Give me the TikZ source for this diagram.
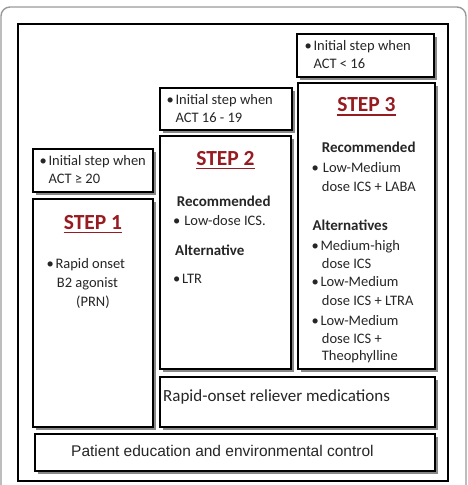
\documentclass[tikz,border=0pt]{standalone}
\usepackage{fontspec}
\setmainfont{Carlito}
\newfontfamily\arialfont{Liberation Sans}
\usetikzlibrary{shadows,fit}
\definecolor{stepred}{RGB}{150,28,34}
\newcommand\itm{\textbullet\hspace{1.6pt}}
\tikzset{
  box/.style={draw=black, line width=1.1pt, fill=white, inner sep=0pt,
    drop shadow={shadow xshift=2.6pt, shadow yshift=-2.6pt, fill=black!55, opacity=0.85}},
  txt/.style={anchor=base west, inner sep=0pt, text=black!85,
    font=\fontsize{14.5}{18}\selectfont},
  head/.style={txt, font=\fontsize{15}{18}\selectfont\bfseries},
  steptitle/.style={anchor=base, inner sep=0pt, text=stepred,
    font=\fontsize{21.5}{24}\selectfont\bfseries},
  uline/.style={draw=stepred, line width=1.3pt},
}
\begin{document}
\begin{tikzpicture}[x=1pt,y=-1pt]
  \useasboundingbox (0,0) rectangle (467,485);
  \clip (0,0) rectangle (467,485);
  % outer card and frame
  \draw[draw=black!40, line width=1.4pt, rounded corners=9pt] (1,7) rectangle (466,500);
  \draw[line width=1.8pt] (18,24) rectangle (448,481);

  % boxes
  \node[box, fit={(297,34) (434,77)}] (s3cond) {};
  \node[box, fit={(298,83) (435,369)}] (s3) {};
  \node[box, fit={(160,88) (292,130)}] (s2cond) {};
  \node[box, fit={(160,136) (291,369)}] (s2) {};
  \node[box, fit={(33,149) (153,192)}] (s1cond) {};
  \node[box, fit={(33,199) (153,427)}] (s1) {};
  \node[box, fit={(160,377) (435,427)}] (rapid) {};
  \node[box, fit={(35,434) (435,471)}] (patient) {};

  % entry conditions
  \node[txt] (s3c1) at (304.5,50.7) {\itm Initial step when};
  \node[txt] (s3c2) at (304.5,68.7) {\hphantom{\itm}ACT < 16};
  \node[txt] (s2c1) at (166.5,104.3) {\itm Initial step when};
  \node[txt] (s2c2) at (166.5,122.3) {\hphantom{\itm}ACT 16 - 19};
  \node[txt] (s1c1) at (39.5,165.7) {\itm Initial step when};
  \node[txt] (s1c2) at (39.5,183.5) {\hphantom{\itm}ACT ≥ 20};

  % step titles
  \node[steptitle] (t3) at (366.5,111.7) {STEP 3};
  \node[steptitle] (t2) at (225.5,165) {STEP 2};
  \node[steptitle] (t1) at (93,229.3) {STEP 1};
  \foreach \t in {t1,t2,t3}
    \draw[uline] ([yshift=-3.4pt]\t.base west) -- ([yshift=-3.4pt]\t.base east);

  % step 3 contents
  \node[head] (s3h1) at (321.7,152.7) {Recommended};
  \node[txt] (s3a1) at (311.5,172.3) {\textbullet\hspace{4pt}Low-Medium};
  \node[txt] (s3a2) at (321.7,191.7) {dose ICS + LABA};
  \node[head] (s3h2) at (312.3,230) {Alternatives};
  \node[txt] (s3b1) at (311.5,250) {\itm Medium-high};
  \node[txt] (s3b2) at (321.7,268.3) {dose ICS};
  \node[txt] (s3b3) at (311.5,286.7) {\itm Low-Medium};
  \node[txt] (s3b4) at (321.7,305.7) {dose ICS + LTRA};
  \node[txt] (s3b5) at (311.5,325) {\itm Low-Medium};
  \node[txt] (s3b6) at (321.7,343.3) {dose ICS +};
  \node[txt] (s3b7) at (321.7,360) {Theophylline};

  % step 2 contents
  \node[head] (s2h1) at (176.7,206.7) {Recommended};
  \node[txt] (s2a1) at (173,225.7) {\textbullet\hspace{4pt}Low-dose ICS.};
  \node[head] (s2h2) at (175,255) {Alternative};
  \node[txt] (s2b1) at (173,283.3) {\itm LTR};

  % step 1 contents
  \node[txt] (s1a1) at (46.5,268.3) {\itm Rapid onset};
  \node[txt] (s1a2) at (56.7,287.3) {B2 agonist};
  \node[txt] (s1a3) at (76,306.7) {(PRN)};

  % bottom layers
  \node[txt, font=\fontsize{17}{20}\selectfont] (rapidtxt) at (163,401.7) {Rapid-onset reliever medications};
  \node[txt, font=\arialfont\fontsize{15.5}{18}\selectfont] (patienttxt) at (71,456.7) {Patient education and environmental control};
\end{tikzpicture}
\end{document}
